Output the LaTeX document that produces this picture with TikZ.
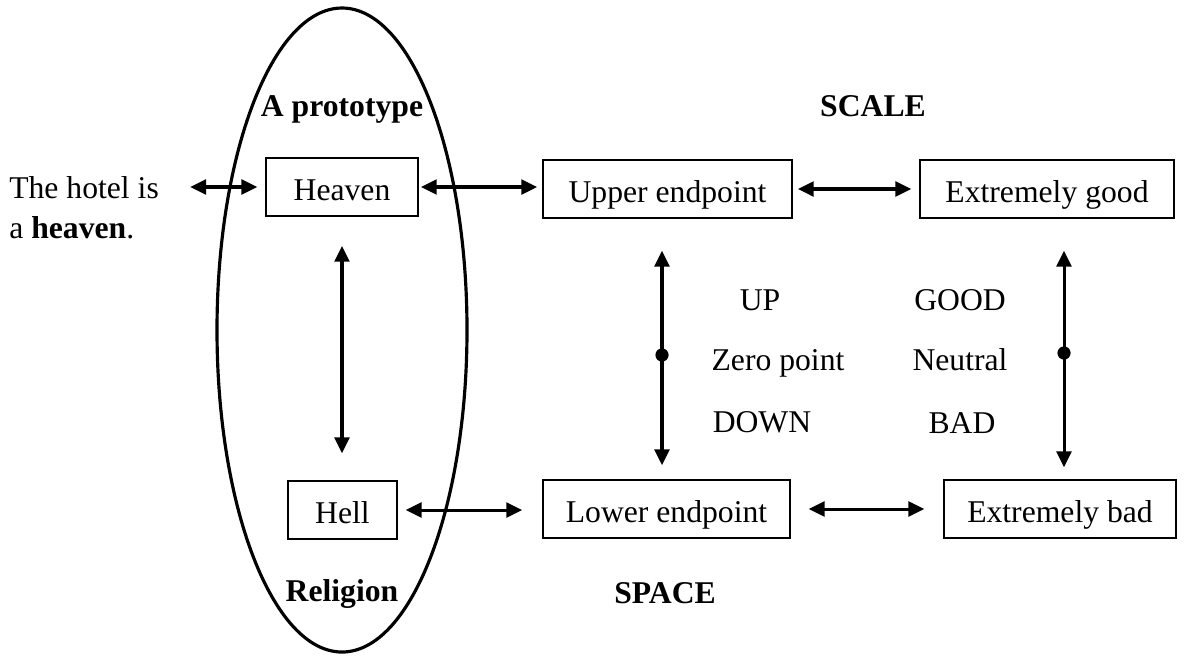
\documentclass[tikz,border=0pt]{standalone}
\usepackage{fontspec}
\setmainfont{Liberation Serif}
\usetikzlibrary{positioning,arrows.meta}

\begin{document}
\begin{tikzpicture}[x=0.379pt, y=-0.379pt, line width=1pt,
    box/.style = {draw, line width=0.6pt, minimum height=22pt, inner sep=0pt,
                  text height=10pt, text depth=0pt, font=\fontsize{12}{14}\selectfont},
    lbl/.style = {anchor=base, inner sep=0pt, font=\fontsize{12}{14}\selectfont},
    head/.style = {anchor=base, inner sep=0pt, font=\fontsize{12}{14}\selectfont\bfseries},
    dbl/.style = {{Triangle[length=6pt,width=5.6pt]}-{Triangle[length=6pt,width=5.6pt]}, line width=1.15pt},
    dot/.style = {circle, fill, inner sep=0pt, minimum size=5pt}]

    \useasboundingbox (0,0) rectangle (1190,659);

    % the prototype
    \draw[line width=1.2pt] (342,330) ellipse [x radius=125, y radius=322];

    \node[box, minimum width=57.6pt] (heaven) at (342,187) {Heaven};
    \node[box, minimum width=41.3pt] (hell) at (342.5,510) {Hell};
    \node[head] (proto) at (342,116) {A prototype};
    \node[head] (religion) at (342,601) {Religion};

    \node[anchor=west, inner sep=0pt, align=left, font=\fontsize{12}{15.2}\selectfont]
        (hotel) at (8,208) {The hotel is\\a \textbf{heaven}.};

    % the scale
    \node[box, minimum width=94.4pt] (upper) at (667.5,189) {Upper endpoint};
    \node[box, minimum width=96.3pt] (good) at (1047,189) {Extremely good};
    \node[box, minimum width=93.6pt] (lower) at (666.5,509) {Lower endpoint};
    \node[box, minimum width=87.9pt] (bad) at (1060,509) {Extremely bad};
    \node[head] (scale) at (873,116) {SCALE};
    \node[head] (space) at (665,603) {SPACE};

    \node[dot] (zeroL) at (662,355) {};
    \node[dot] (zeroR) at (1064,353) {};

    \node[lbl] (up) at (760,310) {UP};
    \node[lbl] (zero) at (778,370) {Zero point};
    \node[lbl] (down) at (762,432) {DOWN};
    \node[lbl] (goodw) at (960,310) {GOOD};
    \node[lbl] (neutral) at (960,370) {Neutral};
    \node[lbl] (badw) at (962,433) {BAD};

    \draw[dbl, shorten <=11.4pt, shorten >=3pt] (hotel.east |- heaven) -- (heaven.west);
    \draw[dbl, shorten <=0.8pt, shorten >=1.9pt] (heaven.east) -- (heaven.east -| upper.west);
    \draw[dbl, shorten <=1.9pt, shorten >=3pt] (upper.east) -- (upper.east -| good.west);
    \draw[dbl, shorten <=11pt, shorten >=10.2pt] (heaven.south) -- (hell.north -| heaven.south);
    \draw[dbl, shorten <=3pt, shorten >=7.6pt] (hell.east) -- (hell.east -| lower.west);
    \draw[dbl, shorten <=6.8pt, shorten >=7.2pt] (lower.east) -- (lower.east -| bad.west);
    \draw[dbl, shorten <=12.1pt, shorten >=5.3pt] (upper.south -| zeroL) -- (lower.north -| zeroL);
    \draw[dbl, shorten <=12.1pt, shorten >=4.5pt] (good.south -| zeroR) -- (bad.north -| zeroR);

\end{tikzpicture}
\end{document}
